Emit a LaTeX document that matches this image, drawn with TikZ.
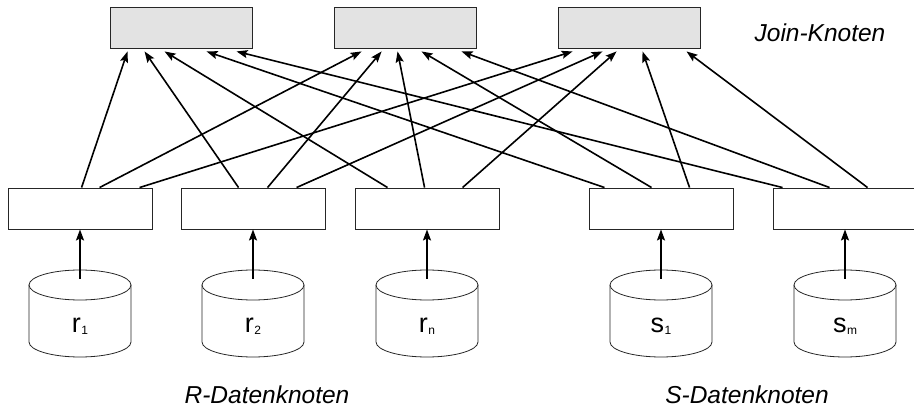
\documentclass[tikz,border=0pt]{standalone}
\usepackage{fontspec}
\setmainfont{Liberation Sans}
\usetikzlibrary{arrows.meta,calc}
\tikzset{
  joinbox/.style={draw=black!85,line width=0.9pt,fill=black!11,minimum width=142pt,minimum height=41pt,inner sep=0pt},
  databox/.style={draw=black!85,line width=0.9pt,fill=white,minimum width=144pt,minimum height=41pt,inner sep=0pt},
  conn/.style={line width=1.6pt,-{Stealth[length=11pt,width=8pt,inset=2pt]}},
  cyl/.style={draw=black!85,line width=0.8pt,fill=white},
  lbl/.style={font=\fontsize{24.5}{26}\selectfont\itshape,anchor=base,inner sep=0pt},
  cyltext/.style={anchor=base,inner sep=0pt}
}
\newcommand{\dbname}[2]{{\fontsize{27}{27}\selectfont #1}\kern0.5pt{\fontsize{12}{12}\selectfont\raisebox{-1.5pt}{#2}}}
\newcommand{\drawcyl}[1]{%
  \draw[cyl] (#1-51,125) -- (#1-51,68) arc[start angle=180,end angle=360,x radius=51,y radius=15] -- (#1+51,125);
  \draw[cyl] (#1,125) ellipse[x radius=51,y radius=15];}
\begin{document}
\begin{tikzpicture}[x=1pt,y=1pt]
\useasboundingbox (0,0) rectangle (914,410);
% join nodes
\node[joinbox] (J1) at (181,382.5) {};
\node[joinbox] (J2) at (405.5,382.5) {};
\node[joinbox] (J3) at (629.5,382.5) {};
% data boxes
\node[databox] (R1) at (80,201.5) {};
\node[databox] (R2) at (253,201.5) {};
\node[databox] (R3) at (427,201.5) {};
\node[databox] (S1) at (661,201.5) {};
\node[databox] (S2) at (845,201.5) {};
% cylinders
\drawcyl{80}
\drawcyl{253}
\drawcyl{427}
\drawcyl{661}
\drawcyl{845}
\node[cyltext] (c1) at (80,77) {\dbname{r}{1}};
\node[cyltext] (c2) at (253,77) {\dbname{r}{2}};
\node[cyltext] (c3) at (427,77) {\dbname{r}{n}};
\node[cyltext] (c4) at (661,77) {\dbname{s}{1}};
\node[cyltext] (c5) at (845,77) {\dbname{s}{m}};
\coordinate (t1) at (80,131);
\coordinate (t2) at (253,131);
\coordinate (t3) at (427,131);
\coordinate (t4) at (661,131);
\coordinate (t5) at (845,131);
\draw[conn] (t1) -- (R1.south);
\draw[conn] (t2) -- (R2.south);
\draw[conn] (t3) -- (R3.south);
\draw[conn] (t4) -- (S1.south);
\draw[conn] (t5) -- (S2.south);
% connectors to join nodes
\draw[conn] ([xshift=74pt]R1.north west) -- ([xshift=18pt,yshift=-3pt]J1.south west);
\draw[conn] ([xshift=92pt]R1.north west) -- ([xshift=27.5pt,yshift=-3pt]J2.south west);
\draw[conn] ([xshift=132pt]R1.north west) -- ([xshift=14.5pt,yshift=-3pt]J3.south west);
\draw[conn] ([xshift=58pt]R2.north west) -- ([xshift=35pt,yshift=-3pt]J1.south west);
\draw[conn] ([xshift=87pt]R2.north west) -- ([xshift=47.5pt,yshift=-3pt]J2.south west);
\draw[conn] ([xshift=116pt]R2.north west) -- ([xshift=44.5pt,yshift=-3pt]J3.south west);
\draw[conn] ([xshift=33pt]R3.north west) -- ([xshift=55pt,yshift=-3pt]J1.south west);
\draw[conn] ([xshift=70pt]R3.north west) -- ([xshift=63.5pt,yshift=-3pt]J2.south west);
\draw[conn] ([xshift=108pt]R3.north west) -- ([xshift=58.5pt,yshift=-3pt]J3.south west);
\draw[conn] ([xshift=16pt]S1.north west) -- ([xshift=97pt,yshift=-3pt]J1.south west);
\draw[conn] ([xshift=63pt]S1.north west) -- ([xshift=87.5pt,yshift=-3pt]J2.south west);
\draw[conn] ([xshift=101pt]S1.north west) -- ([xshift=84.5pt,yshift=-3pt]J3.south west);
\draw[conn] ([xshift=10pt]S2.north west) -- ([xshift=127pt,yshift=-3pt]J1.south west);
\draw[conn] ([xshift=57pt]S2.north west) -- ([xshift=127.5pt,yshift=-3pt]J2.south west);
\draw[conn] ([xshift=95pt]S2.north west) -- ([xshift=128.5pt,yshift=-3pt]J3.south west);
% labels
\node[lbl] (lj) at (820,368) {Join-Knoten};
\node[lbl] (lr) at (267,6) {R-Datenknoten};
\node[lbl] (ls) at (747,6) {S-Datenknoten};
\end{tikzpicture}
\end{document}
